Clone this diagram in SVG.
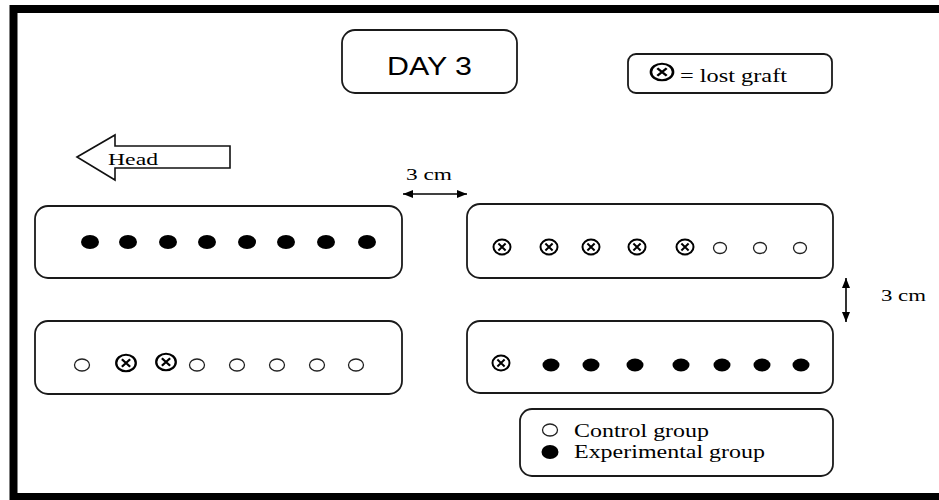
<svg xmlns="http://www.w3.org/2000/svg" xmlns:xlink="http://www.w3.org/1999/xlink" width="939" height="500" viewBox="0 0 939 500">
<style>
.box{fill:#fff;stroke:#1a1a1a;stroke-width:1.8}
.ser{font-family:"Liberation Serif","Times New Roman",serif;fill:#000}
.san{font-family:"Liberation Sans",Arial,sans-serif;fill:#000}
.dot{fill:#000}
.open{fill:#fff;stroke:#222;stroke-width:1.3}
.lost{fill:none;stroke:#000;stroke-width:2}
.conn{stroke:#000;stroke-width:1.6;fill:none}
</style>
<defs>
<g id="x">
<ellipse class="lost" cx="0" cy="0" rx="8.5" ry="7.5"/>
<path class="lost" d="M-3.6,-3.4L3.6,3.4M3.6,-3.4L-3.6,3.4" stroke-width="2.3"/>
</g>
<marker id="ah" viewBox="0 0 10 8" refX="10" refY="4" markerWidth="10" markerHeight="8" markerUnits="userSpaceOnUse" orient="auto-start-reverse">
<path d="M0,0L10,4L0,8Z" fill="#000"/>
</marker>
</defs>
<rect width="939" height="500" fill="#fff"/>
<rect x="13.5" y="9" width="940" height="488" fill="none" stroke="#000" stroke-width="8"/>

<g id="day3">
<rect class="box" x="342" y="30" width="175" height="63" rx="13"/>
<text class="san" x="387" y="75" font-size="25" textLength="85" lengthAdjust="spacingAndGlyphs">DAY 3</text>
</g>

<g id="legend-lost">
<rect class="box" x="628" y="54" width="204" height="39" rx="8"/>
<use xlink:href="#x" transform="translate(662,72) scale(1.3,1.1)"/>
<text class="ser" x="680" y="82" font-size="18" textLength="107" lengthAdjust="spacingAndGlyphs">= lost graft</text>
</g>

<g id="head">
<path d="M77,157L115,135L115,146L230,146L230,168L115,168L115,180Z" fill="#fff" stroke="#111" stroke-width="1.6"/>
<text class="ser" x="108" y="165" font-size="17" textLength="50" lengthAdjust="spacingAndGlyphs">Head</text>
</g>

<g id="row-top-left">
<rect class="box" x="35" y="206" width="367" height="72" rx="13"/>
<ellipse class="dot" cx="90" cy="242" rx="9" ry="7"/>
<ellipse class="dot" cx="128" cy="242" rx="9" ry="7"/>
<ellipse class="dot" cx="168" cy="242" rx="9" ry="7"/>
<ellipse class="dot" cx="207" cy="242" rx="9" ry="7"/>
<ellipse class="dot" cx="247" cy="242" rx="9" ry="7"/>
<ellipse class="dot" cx="286" cy="242" rx="9" ry="7"/>
<ellipse class="dot" cx="326" cy="242" rx="9" ry="7"/>
<ellipse class="dot" cx="367" cy="242" rx="9" ry="7"/>
</g>

<g id="row-top-right">
<rect class="box" x="467" y="204" width="366" height="74" rx="13"/>
<use xlink:href="#x" transform="translate(502,247)"/>
<use xlink:href="#x" transform="translate(549,247)"/>
<use xlink:href="#x" transform="translate(591,247)"/>
<use xlink:href="#x" transform="translate(637,247)"/>
<use xlink:href="#x" transform="translate(685,247)"/>
<ellipse class="open" cx="720" cy="248" rx="6.5" ry="5.5"/>
<ellipse class="open" cx="760" cy="248" rx="6.5" ry="5.5"/>
<ellipse class="open" cx="800" cy="248" rx="6.5" ry="5.5"/>
</g>

<g id="row-bottom-left">
<rect class="box" x="35" y="321" width="367" height="73" rx="13"/>
<ellipse class="open" cx="82" cy="365" rx="7.5" ry="6"/>
<use xlink:href="#x" transform="translate(126,363) scale(1.15,1.1)"/>
<use xlink:href="#x" transform="translate(166,362) scale(1.15,1.1)"/>
<ellipse class="open" cx="197" cy="365" rx="7.5" ry="6"/>
<ellipse class="open" cx="237" cy="365" rx="7.5" ry="6"/>
<ellipse class="open" cx="277" cy="365" rx="7.5" ry="6"/>
<ellipse class="open" cx="317" cy="365" rx="7.5" ry="6"/>
<ellipse class="open" cx="356" cy="365" rx="7.5" ry="6"/>
</g>

<g id="row-bottom-right">
<rect class="box" x="467" y="321" width="366" height="72" rx="13"/>
<use xlink:href="#x" transform="translate(501,363)"/>
<ellipse class="dot" cx="551" cy="365" rx="8.5" ry="6.5"/>
<ellipse class="dot" cx="591" cy="365" rx="8.5" ry="6.5"/>
<ellipse class="dot" cx="635" cy="365" rx="8.5" ry="6.5"/>
<ellipse class="dot" cx="681" cy="365" rx="8.5" ry="6.5"/>
<ellipse class="dot" cx="722" cy="365" rx="8.5" ry="6.5"/>
<ellipse class="dot" cx="762" cy="365" rx="8.5" ry="6.5"/>
<ellipse class="dot" cx="801" cy="365" rx="8.5" ry="6.5"/>
</g>

<g id="legend-groups">
<rect class="box" x="520" y="409" width="313" height="67" rx="12"/>
<ellipse class="open" cx="550" cy="430" rx="7.5" ry="6"/>
<text class="ser" x="574" y="437" font-size="18" textLength="135" lengthAdjust="spacingAndGlyphs">Control group</text>
<ellipse class="dot" cx="550" cy="452" rx="8.5" ry="7"/>
<text class="ser" x="574" y="458" font-size="18" textLength="191" lengthAdjust="spacingAndGlyphs">Experimental group</text>
</g>

<g id="connectors">
<line class="conn" x1="403" y1="194" x2="467" y2="194" marker-start="url(#ah)" marker-end="url(#ah)"/>
<line class="conn" x1="846" y1="278" x2="846" y2="322" marker-start="url(#ah)" marker-end="url(#ah)"/>
</g>

<g id="labels">
<text class="ser" x="406" y="180" font-size="16" textLength="46" lengthAdjust="spacingAndGlyphs">3 cm</text>
<text class="ser" x="881" y="301" font-size="16" textLength="45" lengthAdjust="spacingAndGlyphs">3 cm</text>
</g>
</svg>
